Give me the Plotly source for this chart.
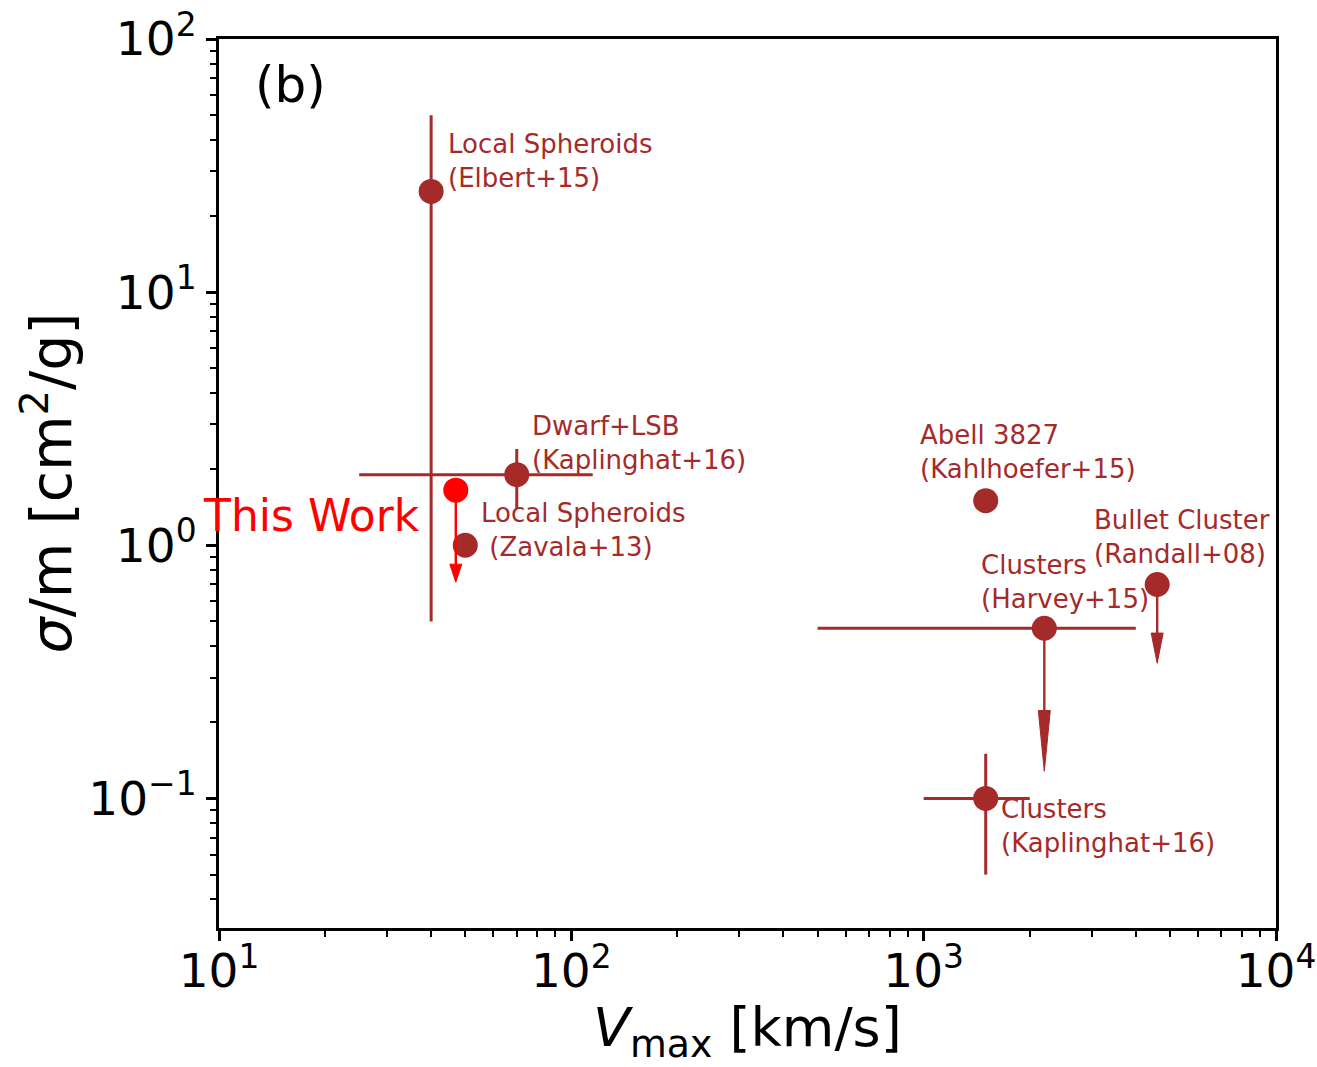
import numpy as np
import plotly.graph_objects as go

BROWN = "#a52a2a"
RED = "#ff0000"
FONT = "DejaVu Sans"

# Literature constraints on the self-interaction cross section
labels = [
    "Local Spheroids<br>(Elbert+15)",
    "Dwarf+LSB<br>(Kaplinghat+16)",
    "Local Spheroids<br>\u00a0(Zavala+13)",
    "Abell 3827<br>(Kahlhoefer+15)",
    "Clusters<br>(Harvey+15)",
    "Bullet Cluster<br>(Randall+08)",
    "Clusters<br>(Kaplinghat+16)",
]
vmax = [40, 70, 50, 1500, 2200, 4600, 1500]          # km/s
sigma = [25, 1.9, 1.0, 1.5, 0.47, 0.7, 0.1]           # cm^2/g
vmax_lo = [40, 25, 50, 1500, 500, 4600, 1000]
vmax_hi = [40, 115, 50, 1500, 4000, 4600, 2000]
sigma_lo = [0.5, 1.4, 1.0, 1.5, 0.47, 0.7, 0.05]
sigma_hi = [50, 2.4, 1.0, 1.5, 0.47, 0.7, 0.15]

# Upper limits drawn as downward arrows (start value -> arrow tip)
ul_vmax = [2200, 4600]
ul_from = [0.47, 0.7]
ul_to = [0.128, 0.342]

# This work
this_vmax = 47
this_sigma = 1.65
this_to = 0.715

# tick labels
x_ticks = [10, 100, 1000, 10000]
x_ticktext = ["10<sup>1</sup>", "10<sup>2</sup>", "10<sup>3</sup>", "10<sup>4</sup>"]
y_ticks = [0.1, 1, 10, 100]
y_ticktext = ["10<sup>\u22121</sup>", "10<sup>0</sup>", "10<sup>1</sup>", "10<sup>2</sup>"]

# label anchor positions (log10 V, log10 sigma), left edge / vertical middle
label_pos = [
    (1.643, 1.518),
    (1.884, 0.403),
    (1.737, 0.059),
    (2.983, 0.368),
    (3.156, -0.146),
    (3.479, 0.032),
    (3.215, -1.111),
]

MARKER_SIZE = 25
ERR_W = 3
HEAD_HALF_W = 0.017   # dex in x


def arrow_traces(x, y0, y1, head_len, color):
    """Shaft plus filled triangular head pointing down to y1."""
    base = y1 * 10 ** head_len
    f = 10 ** HEAD_HALF_W
    shaft = go.Scatter(x=[x, x], y=[y0, base], mode="lines",
                       line=dict(color=color, width=2.4),
                       hoverinfo="skip", showlegend=False)
    head = go.Scatter(x=[x / f, x, x * f, x / f], y=[base, y1, base, base],
                      mode="lines", fill="toself", fillcolor=color,
                      line=dict(color=color, width=1),
                      hoverinfo="skip", showlegend=False)
    return [shaft, head]


fig = go.Figure()

# arrows for upper limits (under markers)
for x, a, b, hl in zip(ul_vmax, ul_from, ul_to, [0.24, 0.119]):
    for t in arrow_traces(x, a, b, hl, BROWN):
        fig.add_trace(t)

fig.add_trace(go.Scatter(
    x=vmax, y=sigma, mode="markers",
    marker=dict(color=BROWN, size=MARKER_SIZE, line=dict(width=0)),
    error_x=dict(type="data", symmetric=False,
                 array=[h - v for h, v in zip(vmax_hi, vmax)],
                 arrayminus=[v - l for v, l in zip(vmax, vmax_lo)],
                 color=BROWN, thickness=ERR_W, width=0),
    error_y=dict(type="data", symmetric=False,
                 array=[h - s for h, s in zip(sigma_hi, sigma)],
                 arrayminus=[s - l for s, l in zip(sigma, sigma_lo)],
                 color=BROWN, thickness=ERR_W, width=0),
    hovertext=labels, showlegend=False,
))

for t in arrow_traces(this_vmax, this_sigma, this_to, 0.071, RED):
    fig.add_trace(t)
fig.add_trace(go.Scatter(
    x=[this_vmax], y=[this_sigma], mode="markers",
    marker=dict(color=RED, size=MARKER_SIZE, line=dict(width=0)),
    showlegend=False,
))

annotations = []
for txt, (lx, ly) in zip(labels, label_pos):
    annotations.append(dict(
        x=lx, y=ly, xref="x", yref="y", text=txt, showarrow=False,
        xanchor="left", yanchor="middle", align="left",
        font=dict(family=FONT, size=26, color=BROWN),
    ))
annotations.append(dict(
    x=1.575, y=0.119, xref="x", yref="y", text="This Work", showarrow=False,
    xanchor="right", yanchor="middle", font=dict(family=FONT, size=44, color=RED),
))
annotations.append(dict(
    x=1.096, y=1.818, xref="x", yref="y", text="(b)", showarrow=False,
    xanchor="left", yanchor="middle", font=dict(family=FONT, size=50, color="black"),
))
# axis titles
annotations.append(dict(
    x=0.5, y=0, xref="paper", yref="paper", yshift=-103,
    text="<i>V</i><sub>max</sub> [km/s]", showarrow=False,
    xanchor="center", yanchor="middle", font=dict(family=FONT, size=54, color="black"),
))
annotations.append(dict(
    x=0, y=0.5, xref="paper", yref="paper", xshift=-172,
    text="<i>σ</i>/m [cm<sup>2</sup>/g]", showarrow=False, textangle=-90,
    xanchor="center", yanchor="middle", font=dict(family=FONT, size=57, color="black"),
))

x_minor = [m * 10 ** d for d in range(1, 4) for m in range(2, 10)]
y_minor = [m * 10 ** d for d in range(-2, 2) for m in range(2, 10)]

axis_common = dict(
    type="log", showgrid=False, zeroline=False, automargin=False,
    showline=True, linecolor="black", linewidth=3, mirror=True,
    ticks="outside", ticklen=10, tickwidth=2.6, tickcolor="black",
    tickmode="array", ticklabeloverflow="allow",
    tickfont=dict(family=FONT, size=47, color="black"),
)

fig.update_layout(
    width=1317, height=1067,
    margin=dict(l=219, r=41, t=39, b=139),
    paper_bgcolor="white", plot_bgcolor="white",
    xaxis=dict(range=[1, 4], tickvals=x_ticks, ticktext=x_ticktext,
               ticklabelstandoff=-10,
               minor=dict(tickvals=x_minor, ticks="outside", ticklen=6,
                          tickwidth=2.2, tickcolor="black"),
               **axis_common),
    yaxis=dict(range=[-1.512, 2], tickvals=y_ticks, ticktext=y_ticktext,
               minor=dict(tickvals=y_minor, ticks="outside", ticklen=6,
                          tickwidth=2.2, tickcolor="black"),
               **axis_common),
    annotations=annotations,
    showlegend=False,
)

fig.write_html("out.html")
